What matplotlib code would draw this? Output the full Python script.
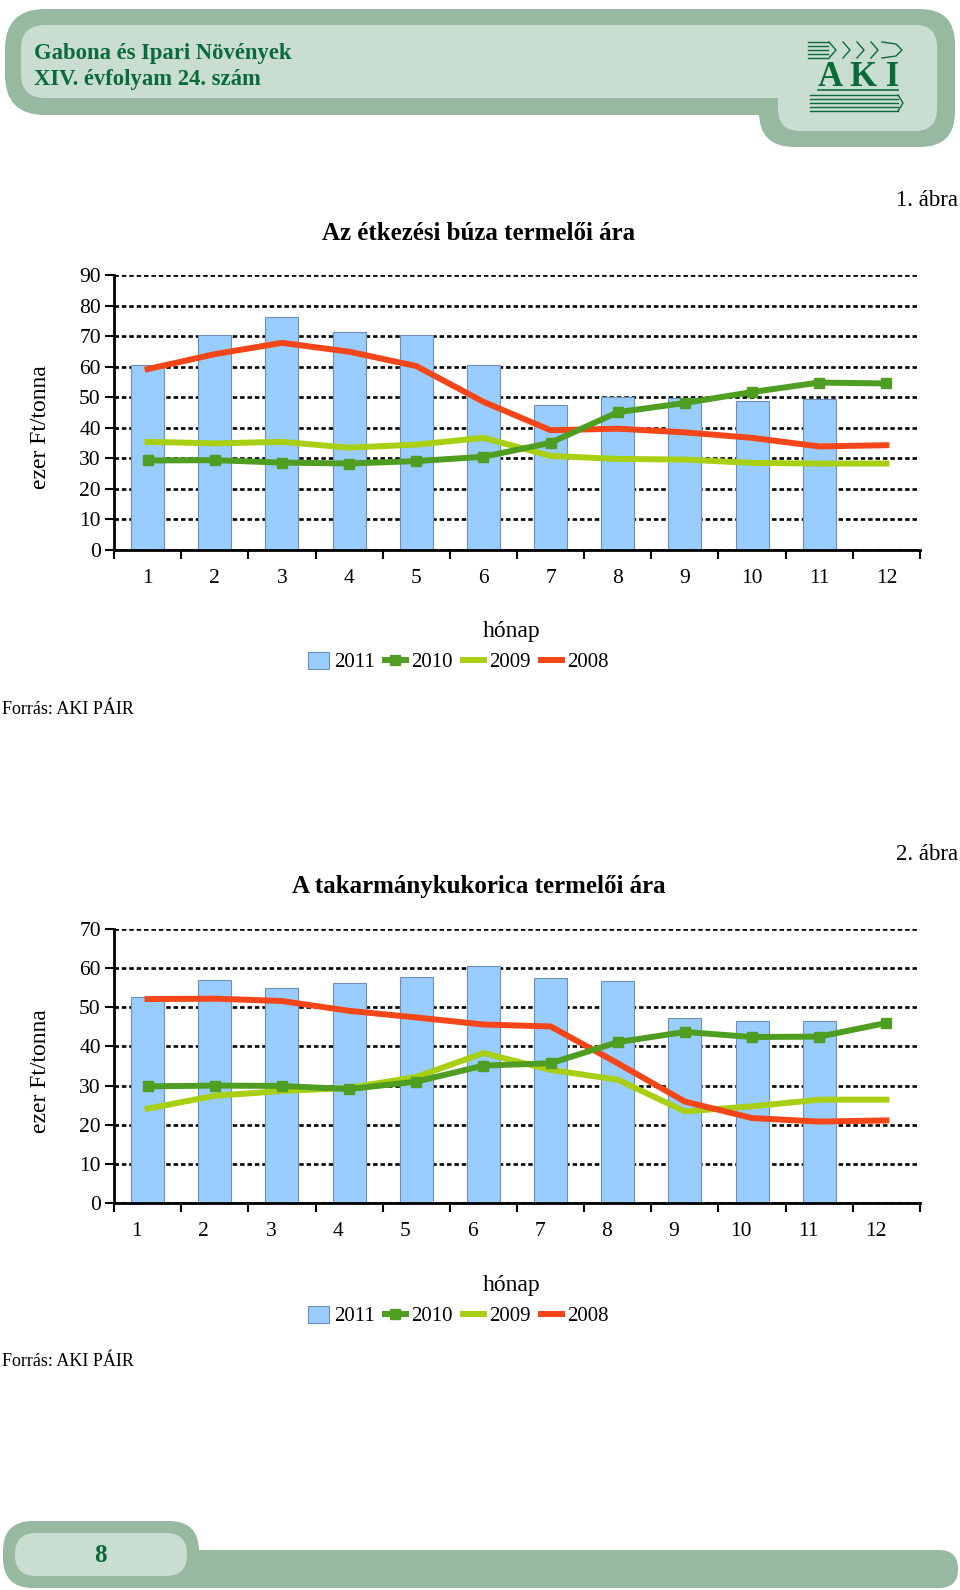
import numpy as np
import matplotlib
matplotlib.use("Agg")
import matplotlib.pyplot as plt
import matplotlib.transforms as mtransforms
from matplotlib.patches import FancyBboxPatch

plt.rcParams['font.family'] = ['Liberation Serif', 'DejaVu Serif']

# --- data (ezer Ft/tonna, by month) ---
months = [1, 2, 3, 4, 5, 6, 7, 8, 9, 10, 11, 12]
years = ['2011', '2010', '2009', '2008']

wheat_2011 = [60.6, 70.3, 76.1, 71.2, 70.3, 60.6, 47.3, 50.2, 49.7, 48.9, 49.4]
wheat_2010 = [29.3, 29.4, 28.6, 28.3, 29.1, 30.5, 35.1, 45.1, 48.1, 51.7, 54.8, 54.5]
wheat_2009 = [35.4, 34.9, 35.4, 33.5, 34.5, 36.7, 30.8, 29.8, 29.6, 28.5, 28.3, 28.3]
wheat_2008 = [59.2, 64.1, 67.8, 64.9, 60.2, 48.5, 39.2, 39.7, 38.5, 36.7, 33.9, 34.3]

corn_2011 = [52.7, 57.0, 55.0, 56.1, 57.7, 60.6, 57.4, 56.8, 47.3, 46.4, 46.5]
corn_2010 = [29.8, 30.0, 29.9, 29.1, 31.0, 35.1, 35.7, 41.1, 43.7, 42.4, 42.5, 46.0]
corn_2009 = [24.1, 27.4, 28.6, 29.4, 32.2, 38.3, 34.0, 31.5, 23.4, 24.7, 26.4, 26.4]
corn_2008 = [52.1, 52.2, 51.6, 49.1, 47.4, 45.6, 45.1, 35.7, 25.9, 21.7, 20.8, 21.1]

BAR_C = '#99CCFF'
BAR_EDGE = '#6F8FB5'
C2010 = '#4F9E22'
C2009 = '#A9CF12'
C2008 = '#F5461A'
DARK_GREEN = '#0B6A3A'
BAND = '#96B9A0'
BAND_LIGHT = '#C9DDD0'

W, H = 960, 1590
fig = plt.figure(figsize=(W / 100, H / 100), dpi=100)

# background axes in pixel coords for header, footer and free texts
bg = fig.add_axes([0, 0, 1, 1])
bg.set_xlim(0, W)
bg.set_ylim(H, 0)
bg.axis('off')


def rbox(x0, y0, x1, y1, r, color):
    bg.add_patch(FancyBboxPatch((x0 + r, y0 + r), x1 - x0 - 2 * r, y1 - y0 - 2 * r,
                                boxstyle='round,pad=%g' % r, fc=color, ec='none'))


# header
rbox(5, 9, 955, 115, 40, BAND)
rbox(759, 9, 955, 147, 35, BAND)
rbox(21, 25, 937, 98, 24, BAND_LIGHT)
rbox(778, 25, 937, 131, 22, BAND_LIGHT)
bg.text(34, 53, 'Gabona és Ipari Növények', fontsize=16.3, fontweight='bold',
        color=DARK_GREEN, va='center', ha='left')
bg.text(34, 79, 'XIV. évfolyam 24. szám', fontsize=16.3, fontweight='bold',
        color=DARK_GREEN, va='center', ha='left')

# logo, roughly
for yy in [42, 46, 50, 54, 58]:
    bg.plot([808, 828], [yy, yy], color=DARK_GREEN, lw=1)
for xc in [836, 850, 864, 878]:
    bg.plot([xc - 7, xc, xc - 7], [42, 50, 58], color=DARK_GREEN, lw=1)
bg.plot([882, 896, 902, 896, 882], [42, 44, 50, 56, 58], color=DARK_GREEN, lw=1)
bg.text(859, 78, 'A K I', fontsize=25, fontweight='bold', color=DARK_GREEN,
        ha='center', va='center')
bg.plot([818, 898], [90, 90], color=DARK_GREEN, lw=1.2)
for yy in [95, 99, 103, 107, 111]:
    bg.plot([810, 898], [yy, yy], color=DARK_GREEN, lw=1)
bg.plot([898, 903, 898], [95, 103, 111], color=DARK_GREEN, lw=1)

# footer
rbox(150, 1550, 958, 1588, 19, BAND)
rbox(3, 1521, 199, 1588, 30, BAND)
rbox(15, 1533, 187, 1576, 21, BAND_LIGHT)
bg.text(100, 1555, '8', fontsize=18, fontweight='bold', color=DARK_GREEN,
        ha='center', va='center')


def px_axes(x0, y0, x1, y1):
    return fig.add_axes([x0 / W, 1 - y1 / H, (x1 - x0) / W, (y1 - y0) / H])


def draw_chart(ax, s2011, s2010, s2009, s2008, ymax, label_shift):
    ax.set_facecolor('none')
    ax.bar(months[:len(s2011)], s2011, width=0.49, color=BAR_C, edgecolor=BAR_EDGE,
           linewidth=0.8, zorder=3, label=years[0])
    ax.plot(months, s2010, color=C2010, lw=4.3, marker='s', ms=7, zorder=5,
            solid_joinstyle='round', label=years[1])
    ax.plot(months, s2009, color=C2009, lw=4.3, zorder=4,
            solid_joinstyle='round', label=years[2])
    ax.plot(months, s2008, color=C2008, lw=4.3, zorder=4,
            solid_joinstyle='round', label=years[3])
    ax.set_xlim(0.5, 12.5)
    ax.set_ylim(0, ymax)
    ax.set_yticks(np.arange(0, ymax + 1, 10))
    ax.yaxis.grid(True, color='black', linestyle=(0, (1.7, 1.1)), lw=1.9, zorder=1)
    ax.set_axisbelow(True)
    for s in ['top', 'right']:
        ax.spines[s].set_visible(False)
    for s in ['left', 'bottom']:
        ax.spines[s].set_linewidth(2)
        ax.spines[s].set_zorder(6)
    ax.set_xticks(np.arange(0.5, 13, 1))
    ax.set_xticklabels([])
    ax.set_xticks(months, minor=True)
    ax.set_xticklabels([str(m) for m in months], minor=True)
    ax.tick_params(axis='x', which='major', direction='out', length=6.5, width=1.5)
    ax.tick_params(axis='x', which='minor', length=0, pad=14, labelsize=15.5)
    ax.tick_params(axis='y', direction='out', length=6.5, width=1.5, pad=3,
                   labelsize=15.5)
    if label_shift:
        off = mtransforms.ScaledTranslation(label_shift / 100, 0, fig.dpi_scale_trans)
        for lab in ax.xaxis.get_minorticklabels():
            lab.set_transform(lab.get_transform() + off)


def add_legend(ax, ycenter):
    h, l = ax.get_legend_handles_labels()
    order = [l.index(y) for y in years]
    fig.legend([h[i] for i in order], [l[i] for i in order], ncol=4, frameon=False,
               loc='center', bbox_to_anchor=(458 / W, 1 - ycenter / H), fontsize=15,
               handlelength=1.0, handleheight=0.9, handletextpad=0.25,
               columnspacing=0.5, borderaxespad=0)


# chart 1
ax1 = px_axes(114, 275, 920, 550)
draw_chart(ax1, wheat_2011, wheat_2010, wheat_2009, wheat_2008, 90, 0)
bg.text(958, 201, '1. ábra', fontsize=16.5, ha='right', va='center')
bg.text(479, 233, 'Az étkezési búza termelői ára', fontsize=18, fontweight='bold',
        ha='center', va='center')
bg.text(40, 427, 'ezer Ft/tonna', fontsize=17, rotation=90, ha='center', va='center')
bg.text(512, 632, 'hónap', fontsize=17, ha='center', va='center')
bg.text(2, 709, 'Forrás: AKI PÁIR', fontsize=13, ha='left', va='center')
add_legend(ax1, 662)

# chart 2
ax2 = px_axes(114, 929, 920, 1203)
draw_chart(ax2, corn_2011, corn_2010, corn_2009, corn_2008, 70, -11)
bg.text(958, 855, '2. ábra', fontsize=16.5, ha='right', va='center')
bg.text(479, 887, 'A takarmánykukorica termelői ára', fontsize=18, fontweight='bold',
        ha='center', va='center')
bg.text(40, 1071, 'ezer Ft/tonna', fontsize=17, rotation=90, ha='center', va='center')
bg.text(512, 1285, 'hónap', fontsize=17, ha='center', va='center')
bg.text(2, 1362, 'Forrás: AKI PÁIR', fontsize=13, ha='left', va='center')
add_legend(ax2, 1316)

fig.savefig('out.png', dpi=100)
